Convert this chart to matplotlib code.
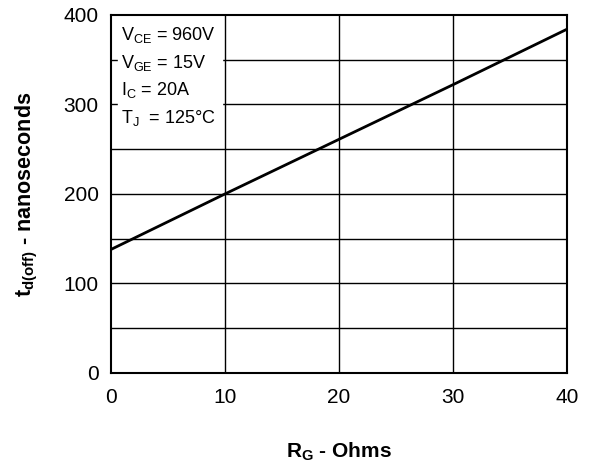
import matplotlib
matplotlib.use('Agg')
import matplotlib.pyplot as plt

# values
rg = [0, 10, 20, 30, 40]
t_doff = [138, 200, 261, 322, 384]
cond_lines = [r'$\mathregular{V_{CE}}$ = 960V',
              r'$\mathregular{V_{GE}}$ = 15V',
              r'$\mathregular{I_{C}}$ = 20A',
              r'$\mathregular{T_{J}}$  = 125°C']
x_ticks = [0, 10, 20, 30, 40]
y_ticks = [0, 100, 200, 300, 400]
y_grid = [50, 100, 150, 200, 250, 300, 350]

plt.rcParams['font.family'] = 'Liberation Sans'
plt.rcParams['mathtext.fontset'] = 'custom'
plt.rcParams['mathtext.rm'] = 'Liberation Sans'
plt.rcParams['mathtext.bf'] = 'Liberation Sans:bold'

fig = plt.figure(figsize=(5.94, 4.65), dpi=100)
ax = fig.add_axes([0.187, 0.198, 0.7675, 0.770])

for yv in y_grid:
    ax.axhline(yv, color='black', lw=1.0, zorder=1)
for xv in x_ticks[1:-1]:
    ax.axvline(xv, color='black', lw=1.0, zorder=1)

ax.plot(rg, t_doff, color='black', lw=2.0, zorder=3)

ax.set_xlim(0, 40)
ax.set_ylim(0, 400)
ax.set_xticks(x_ticks)
ax.set_yticks(y_ticks)
ax.tick_params(length=0, labelsize=15)
ax.tick_params(axis='x', pad=11)
ax.tick_params(axis='y', pad=9)
for s in ax.spines.values():
    s.set_linewidth(1.5)
    s.set_zorder(4)

# condition box (white patch that hides the grid behind the text)
ax.fill_between([0.6, 9.7], [272, 272], [399, 399], color='white', zorder=2)
for i, line in enumerate(cond_lines):
    ax.text(0.9, 372 - i * 31, line, fontsize=13, va='baseline', ha='left', zorder=5)

ax.set_xlabel(r'$\mathbf{R_{G}}$ - Ohms', fontsize=15, fontweight='bold', labelpad=24)
ax.set_ylabel(r'$\mathbf{t_{d(off)}}$ - nanoseconds', fontsize=15.5, fontweight='bold', labelpad=17)

plt.savefig('out.png', dpi=100)
